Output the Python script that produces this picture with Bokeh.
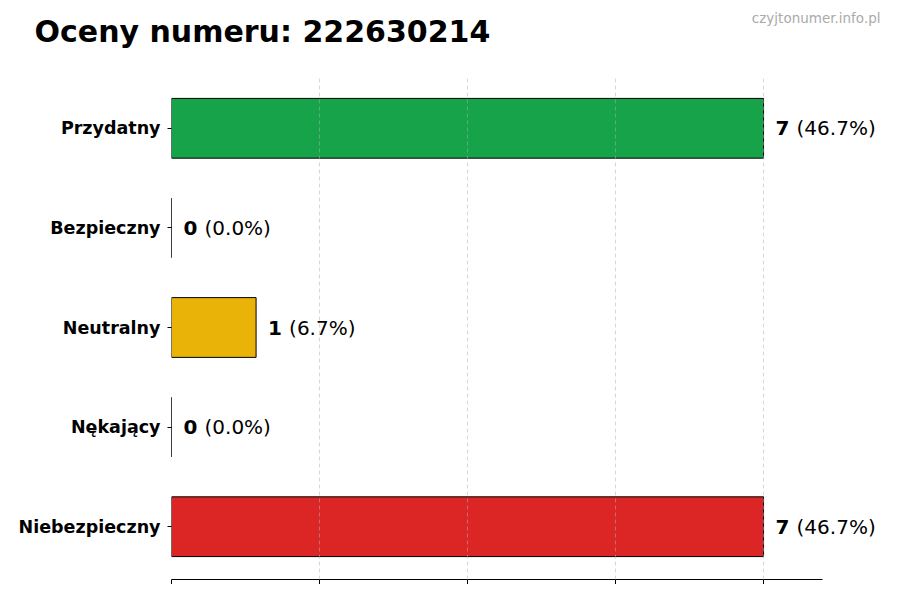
from bokeh.plotting import figure
from bokeh.models import ColumnDataSource, FixedTicker, Range1d
from bokeh.layouts import column
from bokeh.core.properties import value
from bokeh.embed import file_html
from bokeh.resources import INLINE

categories = ["Przydatny", "Bezpieczny", "Neutralny", "Nękający", "Niebezpieczny"]
counts = [7, 0, 1, 0, 7]
colors = ["#16a34a", "#9ca3af", "#eab308", "#f97316", "#dc2626"]
title_text = "Oceny numeru: 222630214"
watermark = "czyjtonumer.info.pl"
x_ticks = [0, 1.75, 3.5, 5.25, 7]

total = sum(counts)
n = len(categories)
ypos = [n - 1 - i for i in range(n)]
num_labels = [str(c) for c in counts]
pct_labels = ["(%.1f%%)" % (100.0 * c / total) for c in counts]
x_max = max(counts) * 1.1

FONT = "DejaVu Sans"
W = 884
HEAD_H = 75

# ---- header (title + watermark), pixel-like coordinates
head = figure(width=W, height=HEAD_H, output_backend="svg", toolbar_location=None,
              x_range=Range1d(0, W), y_range=Range1d(HEAD_H, 0),
              x_axis_type=None, y_axis_type=None,
              min_border=0, min_border_left=0, min_border_right=0,
              min_border_top=0, min_border_bottom=0)
head.outline_line_color = None
head.xgrid.visible = False
head.ygrid.visible = False
head.text(x=[34], y=[31], text=[title_text], text_font=value(FONT), text_font_style="bold",
          text_font_size="30px", text_color="black", text_baseline="middle",
          text_align="left")
head.text(x=[880], y=[17], text=[watermark], text_font=value(FONT), text_font_size="13.5px",
          text_color="#aaaaaa", text_align="right", text_baseline="middle")

# ---- main bar chart
src = ColumnDataSource(dict(y=ypos, right=counts, color=colors, num=num_labels, pct=pct_labels))

p = figure(width=W, height=509, output_backend="svg", toolbar_location=None,
           x_range=Range1d(0, 8.43), y_range=Range1d(-0.53, 4.53),
           min_border_left=171, min_border_right=0, min_border_top=0, min_border_bottom=4)
p.outline_line_color = None
p.background_fill_color = "white"
p.border_fill_color = "white"

for fig in (head, p):
    if "frame_align" in fig.properties():
        fig.frame_align = False

p.hbar(y="y", right="right", left=0, height=0.6, fill_color="color", line_color="black",
       line_width=1, source=src)

p.text(x="right", y="y", text="num", source=src, x_offset=12, text_baseline="middle",
       text_font=value(FONT), text_font_style="bold", text_font_size="20px", text_color="black")
p.text(x="right", y="y", text="pct", source=src, x_offset=33, text_baseline="middle",
       text_font=value(FONT), text_font_size="20px", text_color="black")

p.xaxis.ticker = FixedTicker(ticks=x_ticks)
p.xaxis.bounds = (0, x_max)
p.xaxis.major_label_text_font_size = "0px"
p.xaxis.major_tick_out = 5
p.xaxis.major_tick_in = 0
p.xaxis.minor_tick_line_color = None
p.xaxis.axis_line_color = "black"
p.xaxis.major_label_standoff = 0

p.yaxis.ticker = FixedTicker(ticks=ypos)
p.yaxis.major_label_overrides = {y: c for y, c in zip(ypos, categories)}
p.yaxis.major_label_text_font = FONT
p.yaxis.major_label_text_font_style = "bold"
p.yaxis.major_label_text_font_size = "17.5px"
p.yaxis.major_label_text_color = "black"
p.yaxis.axis_line_color = None
p.yaxis.major_tick_out = 4
p.yaxis.major_tick_in = 0
p.yaxis.minor_tick_line_color = None
p.yaxis.major_label_standoff = 7

p.ygrid.grid_line_color = None
p.xgrid.ticker = FixedTicker(ticks=x_ticks)
p.xgrid.grid_line_color = "#b0b0b0"
p.xgrid.grid_line_alpha = 0.5
p.xgrid.grid_line_dash = "4 3"
p.xgrid.level = "overlay"

layout = column(head, p, spacing=0)
open("out.html", "w").write(file_html(layout, INLINE))
